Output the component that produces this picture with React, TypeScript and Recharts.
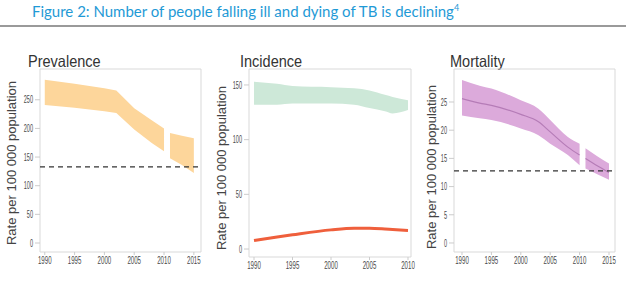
import React from "react";
import { ComposedChart, Area, Line, XAxis, YAxis, ReferenceLine, ReferenceArea } from "recharts";

// Prevalence (rate per 100 000), uncertainty bounds; null marks the gap between series
const prevYears = [1990, 1995, 2000, 2002, 2005, 2008, 2010, 2010.5, 2011, 2013, 2015];
const prevLow = [241, 236, 230, 227, 198, 174, 160, null, 148, 136, 122];
const prevHigh = [285, 278, 270, 266, 235, 214, 200, null, 192, 187, 183];
const prevTarget = 133;

// Incidence: all TB (band) and HIV-positive TB (line)
const incYears = [1990, 1993, 1995, 2000, 2003, 2005, 2007, 2008, 2010];
const incLow = [132, 132, 133, 133, 132, 129, 126, 124, 127];
const incHigh = [153, 151, 149, 148, 147, 145, 141, 139, 136];
const incHiv = [7.8, 11, 13, 17.5, 19, 19, 18.3, 17.8, 17];

// Mortality: bounds and best estimate
const mortYears = [1990, 1993, 1995, 2000, 2003, 2005, 2008, 2010, 2010.5, 2011, 2013, 2015];
const mortLow = [22.6, 22.1, 21.8, 20.3, 19.1, 17.6, 15.6, 13.8, null, 13.2, 12.2, 11.2];
const mortMid = [25.6, 24.8, 24.4, 22.8, 21.5, 19.7, 17.0, 15.6, null, 15.0, 13.7, 12.5];
const mortHigh = [28.9, 27.9, 27.4, 25.3, 23.8, 21.8, 18.8, 17.6, null, 16.8, 15.4, 14.1];
const mortTarget = 12.8;

const prevTicksX = [1990, 1995, 2000, 2005, 2010, 2015];
const prevTicksY = [0, 50, 100, 150, 200, 250];
const incTicksX = [1990, 1995, 2000, 2005, 2010];
const incTicksY = [0, 50, 100, 150];
const mortTicksX = [1990, 1995, 2000, 2005, 2010, 2015];
const mortTicksY = [0, 5, 10, 15, 20, 25];

const prevData = prevYears.map((year, i) => ({
  year,
  range: prevLow[i] == null ? null : [prevLow[i], prevHigh[i]],
}));
const incData = incYears.map((year, i) => ({
  year,
  range: [incLow[i], incHigh[i]],
  hiv: incHiv[i],
}));
const mortData = mortYears.map((year, i) => ({
  year,
  range: mortLow[i] == null ? null : [mortLow[i], mortHigh[i]],
  mid: mortMid[i],
}));

const tickFont = "'Liberation Sans', Arial, sans-serif";

// narrow tick labels, squeezed to a fixed width per digit
const XTick = (props: any) => {
  const s = String(props.payload.value);
  return (
    <text x={props.x} y={props.y} dy="0.71em" textAnchor="middle" fontSize={10.5} fill="#4a4a4a"
      fontFamily={tickFont} textLength={s.length * 3.4} lengthAdjust="spacingAndGlyphs">
      {s}
    </text>
  );
};
const YTick = (props: any) => {
  const s = String(props.payload.value);
  return (
    <text x={props.x} y={props.y} dy="0.355em" textAnchor="end" fontSize={10.5} fill="#4a4a4a"
      fontFamily={tickFont} textLength={s.length * 3.1} lengthAdjust="spacingAndGlyphs">
      {s}
    </text>
  );
};

const frame = "#d9d9d9";

const PanelTitle = ({ text, left }: { text: string; left: number }) => (
  <div style={{ position: "absolute", left, top: 53, fontSize: 16.5, lineHeight: "16px", color: "#333",
    fontFamily: tickFont, transform: "scaleX(0.88)", transformOrigin: "left", whiteSpace: "nowrap" }}>
    {text}
  </div>
);

const AxisTitle = ({ cx, cy }: { cx: number; cy: number }) => (
  <div style={{ position: "absolute", left: cx - 100, top: cy - 8, width: 200, height: 16, lineHeight: "16px",
    textAlign: "center", fontSize: 13, color: "#444", fontFamily: tickFont, transform: "rotate(-90deg)",
    whiteSpace: "nowrap" }}>
    Rate per 100 000 population
  </div>
);

export default function App() {
  return (
    <div style={{ position: "absolute", left: 0, top: 0, width: 626, height: 292, background: "#fff", overflow: "hidden" }}>
      <div style={{ position: "absolute", left: 32, top: -2, fontSize: 15, lineHeight: "20px", color: "#1f9ad6",
        fontFamily: "Lato, 'Open Sans', sans-serif", whiteSpace: "nowrap" }}>
        Figure 2: Number of people falling ill and dying of TB is declining<sup style={{ fontSize: 9 }}>4</sup>
      </div>
      <div style={{ position: "absolute", left: 0, top: 25, width: 626, height: 1.5, background: "#9a9a9a" }} />

      <PanelTitle text="Prevalence" left={28} />
      <PanelTitle text="Incidence" left={240} />
      <PanelTitle text="Mortality" left={450} />
      <AxisTitle cx={12} cy={163} />
      <AxisTitle cx={222} cy={168} />
      <AxisTitle cx={432} cy={167} />

      <div style={{ position: "absolute", left: 0, top: 0 }}>
        <ComposedChart width={210} height={292} data={prevData} margin={{ top: 69, right: 9, bottom: 20, left: 0 }}>
          <XAxis dataKey="year" type="number" domain={[1989.2, 2016.2]} ticks={prevTicksX} allowDataOverflow interval={0}
            axisLine={false} tickSize={3} tickMargin={2} tickLine={{ stroke: "#ccc" }} tick={<XTick />} height={20} />
          <YAxis type="number" domain={[-15.7, 303.7]} ticks={prevTicksY} allowDataOverflow width={40} interval={0}
            axisLine={false} tickSize={5} tickMargin={2} tickLine={{ stroke: "#ccc" }} tick={<YTick />} />
          <ReferenceArea x1={1989.2} x2={2016.2} y1={-15.7} y2={303.7} fill="none" stroke={frame} strokeWidth={1} />
          <Area dataKey="range" type="linear" fill="#fdd69b" fillOpacity={1} stroke="none" isAnimationActive={false} />
          <ReferenceLine y={prevTarget} stroke="#333" strokeDasharray="5 4" strokeWidth={1.3} />
        </ComposedChart>
      </div>

      <div style={{ position: "absolute", left: 205, top: 0 }}>
        <ComposedChart width={225} height={292} data={incData} margin={{ top: 69, right: 19, bottom: 15, left: 0 }}>
          <XAxis dataKey="year" type="number" domain={[1989.35, 2010.39]} ticks={incTicksX} allowDataOverflow interval={0}
            axisLine={false} tickSize={3} tickMargin={2} tickLine={{ stroke: "#ccc" }} tick={<XTick />} height={20} />
          <YAxis type="number" domain={[-7.3, 164.6]} ticks={incTicksY} allowDataOverflow width={44} interval={0}
            axisLine={false} tickSize={5} tickMargin={2} tickLine={{ stroke: "#ccc" }} tick={<YTick />} />
          <ReferenceArea x1={1989.35} x2={2010.39} y1={-7.3} y2={164.6} fill="none" stroke={frame} strokeWidth={1} />
          <Area dataKey="range" type="monotone" fill="#cde8d8" fillOpacity={1} stroke="none" isAnimationActive={false} />
          <Line dataKey="hiv" type="monotone" stroke="#ef5f3c" strokeWidth={3} dot={false} isAnimationActive={false} />
        </ComposedChart>
      </div>

      <div style={{ position: "absolute", left: 415, top: 0 }}>
        <ComposedChart width={211} height={292} data={mortData} margin={{ top: 69, right: 11, bottom: 20, left: 0 }}>
          <XAxis dataKey="year" type="number" domain={[1988.64, 2016.02]} ticks={mortTicksX} allowDataOverflow interval={0}
            axisLine={false} tickSize={3} tickMargin={2} tickLine={{ stroke: "#ccc" }} tick={<XTick />} height={20} />
          <YAxis type="number" domain={[-1.6, 30.85]} ticks={mortTicksY} allowDataOverflow width={39} interval={0}
            axisLine={false} tickSize={5} tickMargin={2} tickLine={{ stroke: "#ccc" }} tick={<YTick />} />
          <ReferenceArea x1={1988.64} x2={2016.02} y1={-1.6} y2={30.85} fill="none" stroke={frame} strokeWidth={1} />
          <Area dataKey="range" type="monotone" fill="#dcaadb" fillOpacity={1} stroke="none" isAnimationActive={false} />
          <Line dataKey="mid" type="monotone" stroke="#b57cb7" strokeWidth={1.2} dot={false} isAnimationActive={false} />
          <ReferenceLine y={mortTarget} stroke="#333" strokeDasharray="5 4" strokeWidth={1.3} />
        </ComposedChart>
      </div>
    </div>
  );
}
